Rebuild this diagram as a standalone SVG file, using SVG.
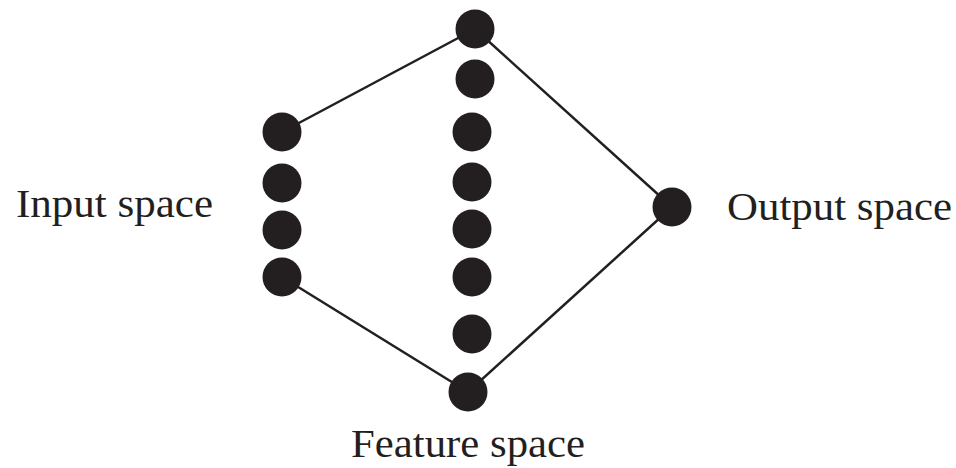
<svg xmlns="http://www.w3.org/2000/svg" width="956" height="468" viewBox="0 0 956 468">
<style>
.n{fill:#231f20}
.e{stroke:#231f20;stroke-width:2.5;fill:none}
.t{font-family:"Liberation Serif","Times New Roman",serif;font-size:40px;fill:#231f20}
</style>
<rect width="956" height="468" fill="#fff"/>
<g id="connectors">
<line class="e" x1="475" y1="29" x2="282" y2="132"/>
<line class="e" x1="475" y1="29" x2="672" y2="207"/>
<line class="e" x1="468" y1="392" x2="282" y2="277"/>
<line class="e" x1="468" y1="392" x2="672" y2="207"/>
</g>
<g id="input-space">
<circle class="n" cx="282" cy="132" r="19.5"/>
<circle class="n" cx="282" cy="183" r="19.5"/>
<circle class="n" cx="282" cy="230" r="19.5"/>
<circle class="n" cx="282" cy="277" r="19.5"/>
<text class="t" x="16" y="217" textLength="197" lengthAdjust="spacingAndGlyphs">Input space</text>
</g>
<g id="feature-space">
<circle class="n" cx="475" cy="29" r="19.5"/>
<circle class="n" cx="475" cy="79" r="19.5"/>
<circle class="n" cx="472" cy="132" r="19.5"/>
<circle class="n" cx="472" cy="182" r="19.5"/>
<circle class="n" cx="472" cy="229" r="19.5"/>
<circle class="n" cx="472" cy="277" r="19.5"/>
<circle class="n" cx="472" cy="334" r="19.5"/>
<circle class="n" cx="468" cy="392" r="19.5"/>
<text class="t" x="351" y="457" textLength="234" lengthAdjust="spacingAndGlyphs">Feature space</text>
</g>
<g id="output-space">
<circle class="n" cx="672" cy="207" r="19.5"/>
<text class="t" x="727" y="220" textLength="225" lengthAdjust="spacingAndGlyphs">Output space</text>
</g>
</svg>
